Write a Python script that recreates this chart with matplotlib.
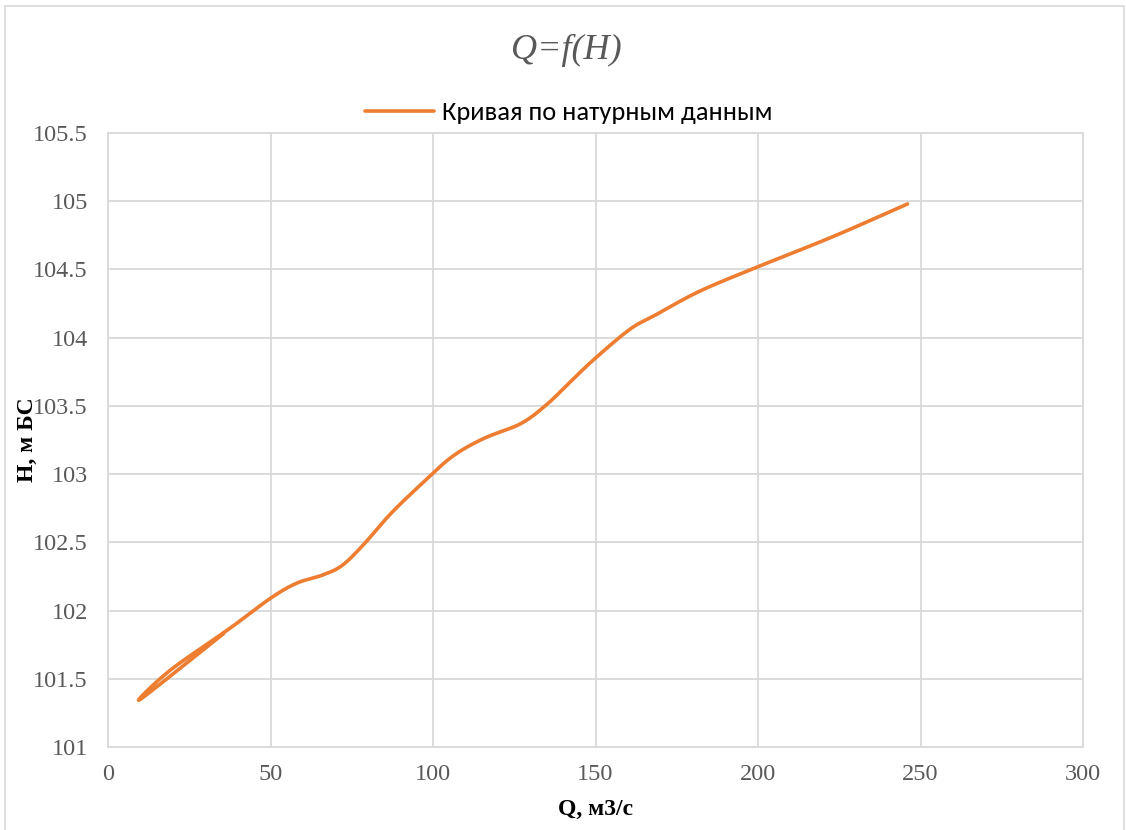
import numpy as np
import matplotlib
matplotlib.use("Agg")
import matplotlib.pyplot as plt
from matplotlib.patches import Rectangle

# Observed discharge / stage pairs, in the order they were recorded
discharge = [35.5, 10, 19, 37.5, 50, 58, 66, 72, 78.5, 87, 97, 106, 115.5,
             127, 135, 142, 149.5, 160.5, 168, 182, 200, 223, 246]
stage = [101.83, 101.35, 101.56, 101.87, 102.09, 102.2, 102.26, 102.33, 102.48,
         102.71, 102.94, 103.13, 103.26, 103.37, 103.51, 103.67, 103.84, 104.06,
         104.16, 104.34, 104.52, 104.74, 104.98]

x_ticks = [0, 50, 100, 150, 200, 250, 300]
y_ticks = [101, 101.5, 102, 102.5, 103, 103.5, 104, 104.5, 105, 105.5]

series_label = "Кривая по натурным данным"
title_text = "Q=f(H)"
x_label = "Q, м3/с"
y_label = "H, м БС"

ORANGE = "#ED7D31"
GRID = "#D9D9D9"
TEXT = "#595959"

plt.rcParams["font.family"] = ["Liberation Serif", "DejaVu Serif"]


def smooth_curve(xs, ys, n=40):
    """Cardinal (Catmull-Rom) Bezier smoothing through the points."""
    p = np.column_stack([xs, ys]).astype(float)
    m = len(p)
    out = []
    for i in range(m - 1):
        p0 = p[i - 1] if i > 0 else p[i]
        p1 = p[i]
        p2 = p[i + 1]
        p3 = p[i + 2] if i + 2 < m else p[i + 1]
        c1 = p1 + (p2 - p0) / 6.0
        c2 = p2 - (p3 - p1) / 6.0
        t = np.linspace(0, 1, n)[:, None]
        seg = ((1 - t) ** 3) * p1 + 3 * ((1 - t) ** 2) * t * c1 \
            + 3 * (1 - t) * t ** 2 * c2 + t ** 3 * p2
        out.append(seg if i == 0 else seg[1:])
    out = np.vstack(out)
    return out[:, 0], out[:, 1]


W, H = 1126, 830
fig = plt.figure(figsize=(W / 100, H / 100), dpi=100)
fig.patch.set_facecolor("white")

# light chart-area frame
fig.patches.append(Rectangle((5 / W, -0.05), 1119 / W, 1 - 6 / H + 0.05,
                             transform=fig.transFigure, fill=False,
                             edgecolor=GRID, linewidth=1.2))

ax = fig.add_axes([108 / W, 1 - 747 / H, (1083 - 108) / W, (747 - 133) / H])
ax.set_xlim(0, 300)
ax.set_ylim(101, 105.5)
ax.set_xticks(x_ticks)
ax.set_yticks(y_ticks)
ax.set_xticklabels([str(v) for v in x_ticks])
ax.set_yticklabels([f"{v:g}" for v in y_ticks])
ax.grid(True, color=GRID, linewidth=1.3, zorder=0)
ax.set_axisbelow(True)
for s in ax.spines.values():
    s.set_color(GRID)
    s.set_linewidth(1.3)
ax.tick_params(length=0, colors=TEXT, labelsize=17.5)
ax.tick_params(axis="y", pad=14.5)
ax.tick_params(axis="x", pad=12)

sx, sy = smooth_curve(discharge, stage)
ax.plot(sx, sy, color=ORANGE, linewidth=2.6, solid_capstyle="round",
        label=series_label, zorder=3)

ax.set_xlabel(x_label, fontweight="bold", fontsize=17, color="black",
              labelpad=10)
ax.set_ylabel(y_label, fontweight="bold", fontsize=17, color="black")
ax.yaxis.set_label_coords(-70 / (1083 - 108), (747 - 440) / (747 - 133))

fig.text(566 / W, 1 - 50 / H, title_text, ha="center", va="center",
         fontstyle="italic", fontsize=26, color=TEXT)

fig.legend(loc="center", bbox_to_anchor=(569 / W, 1 - 113 / H), frameon=False,
           prop={"family": ["Carlito", "Lato"], "size": 19}, handlelength=2.6,
           handletextpad=0.3)

fig.savefig("out.png", dpi=100)
